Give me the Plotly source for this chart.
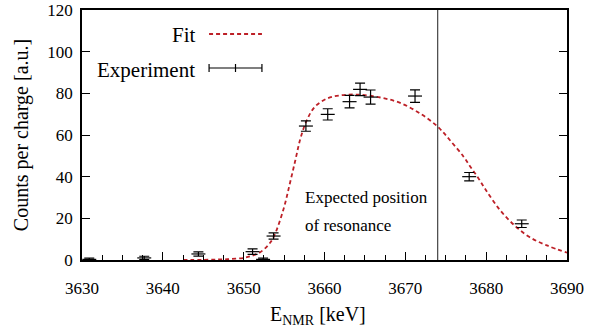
import plotly.graph_objects as go

# Experimental data
exp_x = [3630.9, 3637.7, 3644.4, 3651.1, 3652.4, 3653.7, 3657.7, 3660.4,
         3663.1, 3664.4, 3665.7, 3671.2, 3677.9, 3684.4]
exp_y = [0.3, 1.0, 2.9, 4.0, 0.3, 11.5, 64.3, 69.9, 76.0, 81.9, 78.2, 78.7, 40.0, 17.4]
exp_err = [0.6, 0.8, 1.0, 1.3, 0.6, 1.5, 2.5, 2.7, 3.0, 3.0, 3.4, 3.0, 2.0, 1.8]

# Fit curve
fit_x = [3642.5, 3645.0, 3647.0, 3648.5, 3650.0, 3651.0, 3652.0, 3653.0, 3653.7,
         3654.9, 3655.7, 3656.4, 3657.0, 3657.8, 3658.8, 3660.3, 3661.9, 3664.0,
         3666.9, 3669.3, 3671.8, 3674.0, 3675.5, 3677.2, 3678.0, 3679.0, 3679.9,
         3681.7, 3683.6, 3685.4, 3687.5, 3690.0]
fit_y = [0.0, 0.1, 0.25, 0.5, 1.0, 2.0, 3.6, 7.0, 11.0,
         24.0, 36.5, 48.0, 58.0, 67.0, 73.5, 77.5, 79.0, 79.4,
         78.0, 75.5, 70.4, 64.0, 57.6, 49.6, 45.0, 39.5, 34.0,
         24.0, 16.3, 10.9, 7.0, 3.5]

resonance_x = 3674.0
x_ticks = [3630, 3640, 3650, 3660, 3670, 3680, 3690]
y_ticks = [0, 20, 40, 60, 80, 100, 120]

FONT = "'Liberation Serif', 'Times New Roman', serif"
RED = "#bd2027"

fig = go.Figure()

fig.add_trace(go.Scatter(
    x=fit_x, y=fit_y, mode="lines",
    line=dict(color=RED, width=1.8, dash="4px,3px", shape="spline"),
    showlegend=False, hoverinfo="skip"))

fig.add_trace(go.Scatter(
    x=exp_x, y=exp_y, mode="markers",
    marker=dict(symbol="line-ew-open", size=10, line=dict(color="black", width=1.2), color="black"),
    error_y=dict(type="data", array=exp_err, visible=True, color="black", thickness=1.2, width=5),
    showlegend=False))

# Expected resonance line
fig.add_shape(type="line", xref="x", yref="paper", x0=resonance_x, x1=resonance_x,
              y0=0, y1=1, line=dict(color="#444444", width=1.2))

# Manual legend
fig.add_annotation(xref="paper", yref="paper", x=0.239, y=0.9, text="Fit",
                   showarrow=False, xanchor="right", yanchor="middle",
                   font=dict(family=FONT, size=21, color="black"))
fig.add_annotation(xref="paper", yref="paper", x=0.237, y=0.762, text="Experiment",
                   showarrow=False, xanchor="right", yanchor="middle",
                   font=dict(family=FONT, size=21, color="black"))
fig.add_shape(type="line", xref="paper", yref="paper", x0=0.262, x1=0.371, y0=0.904, y1=0.904,
              line=dict(color=RED, width=1.8, dash="4px,3px"))
fig.add_shape(type="line", xref="paper", yref="paper", x0=0.262, x1=0.371, y0=0.768, y1=0.768,
              line=dict(color="black", width=1.2))
for xx in [0.262, 0.3165, 0.371]:
    fig.add_shape(type="line", xref="paper", yref="paper", x0=xx, x1=xx, y0=0.752, y1=0.784,
                  line=dict(color="black", width=1.2))

# Text annotation
fig.add_annotation(x=3657.4, y=29.8, text="Expected position", showarrow=False,
                   xanchor="left", yanchor="middle", font=dict(family=FONT, size=17, color="black"))
fig.add_annotation(x=3657.4, y=16.8, text="of resonance", showarrow=False,
                   xanchor="left", yanchor="middle", font=dict(family=FONT, size=17, color="black"))

# X-axis title as annotation for exact placement
fig.add_annotation(xref="paper", yref="paper", x=0.487, y=-0.222, text="E<sub>NMR</sub> [keV]",
                   showarrow=False, xanchor="center", yanchor="middle",
                   font=dict(family=FONT, size=20, color="black"))

fig.update_layout(
    width=601, height=333,
    margin=dict(l=82, r=34, t=10, b=73, autoexpand=False),
    paper_bgcolor="white", plot_bgcolor="white",
    font=dict(family=FONT, size=17, color="black"),
    showlegend=False,
)
fig.update_xaxes(
    range=[3630, 3690], tickvals=x_ticks, ticktext=[str(v) for v in x_ticks],
    ticks="inside", ticklen=8, tickwidth=1.2, tickcolor="black",
    minor=dict(dtick=2.5, tick0=3630, ticks="inside", ticklen=5, tickwidth=1, tickcolor="black"),
    showline=True, linecolor="black", linewidth=1.5, mirror=True,
    showgrid=False, zeroline=False, ticklabelstandoff=12, automargin=False,
    tickfont=dict(family=FONT, size=17),
)
fig.update_yaxes(
    range=[0, 120], tickvals=y_ticks, ticktext=[str(v) for v in y_ticks],
    ticks="inside", ticklen=8, tickwidth=1.2, tickcolor="black",
    showline=True, linecolor="black", linewidth=1.5, mirror="ticks",
    showgrid=False, zeroline=False, ticklabelstandoff=4, automargin=False,
    ticklabeloverflow="allow", tickfont=dict(family=FONT, size=17),
    title=dict(text="Counts per charge [a.u.]", font=dict(family=FONT, size=20), standoff=13),
)

fig.write_html("out.html", config={"displayModeBar": False},
               post_script="document.body.style.margin='0';")
